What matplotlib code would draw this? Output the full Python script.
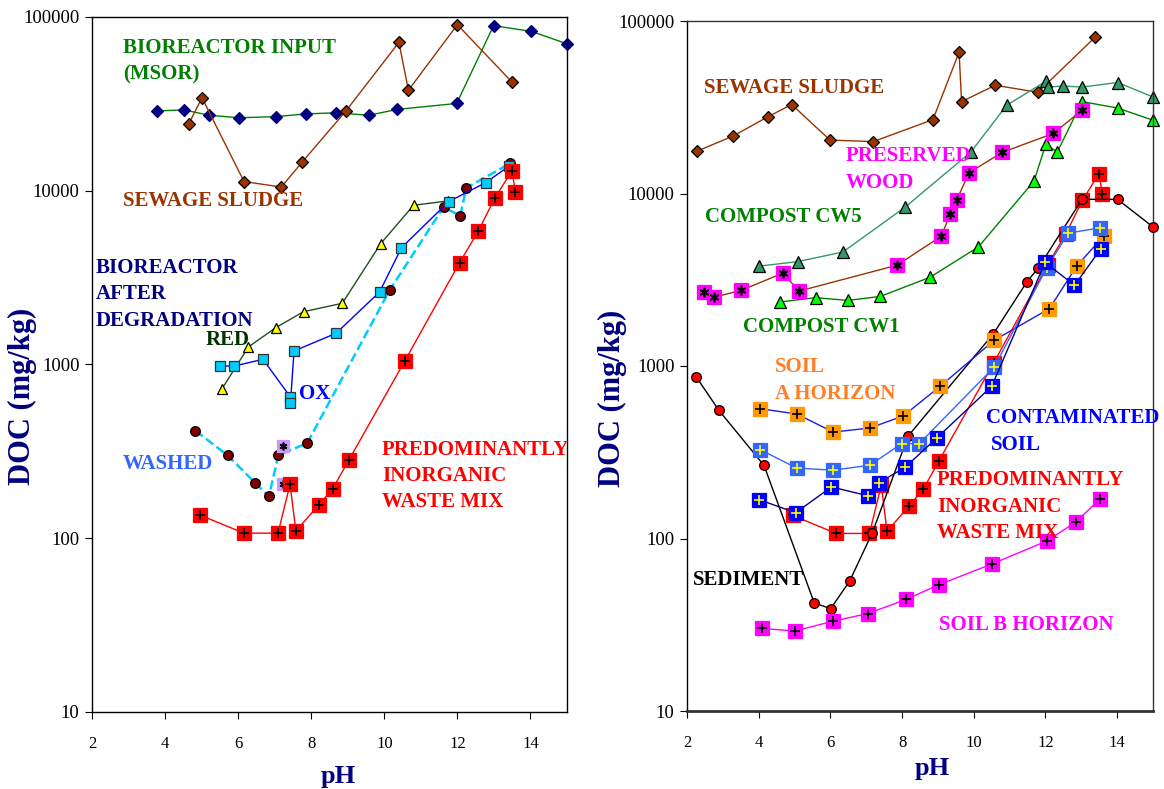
import matplotlib
matplotlib.use('Agg')
import matplotlib.pyplot as plt
from matplotlib.ticker import NullLocator

W, H = 1164, 789

# ---- left panel data (pH, DOC mg/kg) ----
msor_ph = [3.79, 4.51, 5.21, 6.03, 7.03, 7.87, 8.69, 9.57, 10.36, 11.98, 12.99, 14.02, 15.0]
msor_doc = [28800, 29200, 27200, 26300, 26700, 27700, 28100, 27200, 29400, 31800, 89100, 82700, 70100]

sludge_l_ph = [4.65, 5.01, 6.16, 7.18, 7.75, 8.95, 10.40, 10.66, 12.0, 13.49]
sludge_l_doc = [24300, 34300, 11300, 10500, 14600, 28800, 71500, 37900, 90300, 42300]

red_ph = [5.56, 6.28, 7.03, 7.79, 8.85, 9.90, 10.80, 11.73]
red_doc = [726, 1262, 1629, 2014, 2250, 4955, 8250, 8730]

ox_ph = [5.49, 5.89, 6.68, 7.43, 7.43, 7.53, 8.68, 9.87, 10.47, 11.76, 12.77, 13.42]
ox_doc = [980, 980, 1071, 650, 598, 1197, 1512, 2614, 4700, 8650, 11130, 13870]

washed_ph = [4.83, 5.71, 6.46, 6.84, 7.10, 7.89, 10.15, 11.62, 12.08, 12.24, 13.45]
washed_doc = [416, 300, 209, 174, 300, 353, 2684, 8030, 7185, 10370, 14390]

washx_ph = [7.23, 7.23]
washx_doc = [340, 204]

# same waste mix data shown on both panels
waste_ph = [4.95, 6.16, 7.09, 7.42, 7.58, 8.20, 8.59, 9.03, 10.56, 12.06, 12.57, 13.03, 13.49, 13.59]
waste_doc = [136, 107, 107, 204, 110, 155, 193, 282, 1047, 3856, 5845, 9120, 13000, 9880]

# ---- right panel data ----
sludge_r_ph = [2.28, 3.28, 4.25, 4.92, 5.99, 7.20, 8.86, 9.59, 9.66, 10.60, 11.79, 13.39]
sludge_r_doc = [17600, 21500, 27800, 32800, 20400, 20000, 26800, 65900, 34100, 42400, 38600, 80800]

cw5_ph = [4.00, 5.09, 6.35, 8.09, 9.92, 10.92, 12.01, 12.07, 12.50, 13.02, 14.01, 15.0]
cw5_doc = [3790, 4030, 4580, 8350, 17400, 32500, 44700, 41400, 42000, 41400, 44000, 36300]

cw1_ph = [4.59, 5.59, 6.48, 7.39, 8.78, 10.13, 11.68, 12.01, 12.33, 13.02, 14.01, 15.0]
cw1_doc = [2350, 2490, 2400, 2530, 3270, 4900, 11800, 19300, 17400, 34100, 31300, 26600]

wood_ph = [2.47, 2.74, 3.50, 4.67, 5.13, 7.86, 9.09, 9.34, 9.52, 9.87, 10.79, 12.22, 13.02]
wood_doc = [2670, 2500, 2740, 3450, 2720, 3840, 5650, 7570, 9140, 13200, 17300, 22300, 30400]

sed_ph = [2.26, 2.89, 4.15, 5.55, 6.01, 6.54, 7.17, 8.17, 10.55, 11.48, 11.80, 13.02, 14.01, 15.0]
sed_doc = [863, 553, 265, 42.3, 39.2, 56.8, 108, 393, 1540, 3070, 3700, 9250, 9250, 6400]

soila_ph = [4.03, 5.06, 6.08, 7.10, 8.03, 9.06, 10.57, 12.11, 12.88, 13.62]
soila_doc = [566, 527, 414, 437, 513, 762, 1410, 2150, 3820, 5650]

cont1_ph = [4.05, 5.06, 6.08, 7.10, 7.99, 8.48, 10.57, 12.04, 12.64, 13.51]
cont1_doc = [327, 256, 249, 266, 355, 355, 986, 3720, 5900, 6310]

cont2_ph = [4.01, 5.03, 6.03, 7.04, 7.36, 8.08, 8.97, 10.50, 11.99, 12.81, 13.55]
cont2_doc = [168, 141, 199, 177, 211, 258, 383, 762, 3990, 2935, 4795]

soilb_ph = [4.08, 5.01, 6.06, 7.04, 8.11, 9.04, 10.51, 12.04, 12.85, 13.53]
soilb_doc = [30.1, 29.1, 33.1, 36.7, 44.3, 54.1, 71.2, 96.8, 124.7, 170.4]

yticks = [10, 100, 1000, 10000, 100000]
xticks = [2, 4, 6, 8, 10, 12, 14]

plt.rcParams['font.family'] = 'Liberation Serif'

fig = plt.figure(figsize=(W / 100, H / 100), dpi=100)
axl = fig.add_axes([92 / W, 1 - 712 / H, 475 / W, 695 / H])
axr = fig.add_axes([687 / W, 1 - 711 / H, 466 / W, 690 / H])

ASTER = (6, 2, 0)


def px(x, y):
    return x / W, 1 - y / H


def draw(ax, x, y, line, marker, face, edge, ms, over=None, oc='k', ls='-', lw=1.0, z=2):
    ax.plot(x, y, color=line, ls=ls, lw=lw, marker=marker, ms=ms, mfc=face,
            mec=edge, mew=0.9, zorder=z, clip_on=False)
    if over:
        ax.plot(x, y, ls='none', marker=over, ms=ms * 0.7, mec=oc, mew=1.2,
                zorder=z + 0.1, clip_on=False)


# left panel
draw(axl, msor_ph, msor_doc, '#008000', 'D', '#000080', '#000080', 6)
draw(axl, sludge_l_ph, sludge_l_doc, '#993300', 'D', '#993300', 'k', 6)
draw(axl, red_ph, red_doc, '#1f4f1f', '^', '#ffff00', 'k', 7.5)
draw(axl, washed_ph, washed_doc, '#00ccff', 'o', '#800000', 'k', 7, ls='--', lw=1.8, z=3)
draw(axl, ox_ph, ox_doc, '#0000ff', 's', '#00ccff', '#333333', 7.5, z=4)
draw(axl, washx_ph, washx_doc, 'none', 's', '#cc99ff', '#cc99ff', 8, over=ASTER, z=5)
draw(axl, waste_ph, waste_doc, '#ff0000', 's', '#ff0000', '#ff0000', 10, over='+', z=6)

# right panel
draw(axr, sludge_r_ph, sludge_r_doc, '#993300', 'D', '#993300', 'k', 6)
draw(axr, cw5_ph, cw5_doc, '#339966', '^', '#339966', 'k', 8)
draw(axr, cw1_ph, cw1_doc, '#008000', '^', '#00ff00', 'k', 8)
draw(axr, wood_ph, wood_doc, '#993300', 's', '#ff00ff', '#ff00ff', 10, over=ASTER)
draw(axr, waste_ph, waste_doc, '#ff0000', 's', '#ff0000', '#ff0000', 10, over='+', z=3)
draw(axr, sed_ph, sed_doc, 'k', 'o', '#ff0000', 'k', 7, z=4)
draw(axr, soila_ph, soila_doc, '#1a1ae6', 's', '#ff9900', '#ff9900', 10, over='+', z=5)
draw(axr, cont1_ph, cont1_doc, '#3366ff', 's', '#3366ff', '#3366ff', 10, over='+', oc='#ffff00', z=6)
draw(axr, cont2_ph, cont2_doc, '#000080', 's', '#0000ff', '#0000ff', 10, over='+', oc='#ffff00', z=7)
draw(axr, soilb_ph, soilb_doc, '#ff00ff', 's', '#ff00ff', '#ff00ff', 10, over='+', z=8)

for ax in (axl, axr):
    ax.set_yscale('log')
    ax.set_xlim(2, 15)
    ax.set_ylim(10, 100000)
    ax.set_yticks(yticks)
    ax.set_yticklabels([str(v) for v in yticks])
    ax.yaxis.set_minor_locator(NullLocator())
    ax.set_xticks(xticks)
    ax.tick_params(axis='x', direction='out', length=5, pad=12, labelsize=12)
    ax.tick_params(axis='y', direction='out', length=5, pad=4, labelsize=13.5)
    for s in ax.spines.values():
        s.set_linewidth(1.0)
axr.spines['bottom'].set_linewidth(2)
axr.spines['bottom'].set_color('#333333')
axr.spines['top'].set_color('#333333')
axr.spines['right'].set_color('#333333')

# axis titles
lab = dict(color='#000080', fontweight='bold', ha='center', va='center')
fig.text(*px(22, 396), 'DOC (mg/kg)', rotation=90, fontsize=22, **lab)
fig.text(*px(612, 398), 'DOC (mg/kg)', rotation=90, fontsize=22, **lab)
fig.text(*px(338, 776), 'pH', fontsize=19, **lab)
fig.text(*px(932, 769), 'pH', fontsize=19, **lab)


def note(x, y, s, c):
    fig.text(*px(x, y), s, color=c, fontsize=15, fontweight='bold', ha='left', va='center')


# left labels
note(123, 48, 'BIOREACTOR INPUT', '#008000')
note(123, 74, '(MSOR)', '#008000')
note(123, 201, 'SEWAGE SLUDGE', '#993300')
note(96, 268, 'BIOREACTOR', '#000080')
note(96, 294, 'AFTER', '#000080')
note(96, 321, 'DEGRADATION', '#000080')
note(206, 340, 'RED', '#003300')
note(299, 394, 'OX', '#0000ff')
note(123, 464, 'WASHED', '#3366ff')
note(382, 450, 'PREDOMINANTLY', '#ff0000')
note(382, 476, 'INORGANIC', '#ff0000')
note(382, 502, 'WASTE MIX', '#ff0000')

# right labels
note(704, 88, 'SEWAGE SLUDGE', '#993300')
note(846, 156, 'PRESERVED', '#ff00ff')
note(846, 183, 'WOOD', '#ff00ff')
note(705, 217, 'COMPOST CW5', '#008000')
note(743, 327, 'COMPOST CW1', '#008000')
note(775, 367, 'SOIL', '#ff7f27')
note(775, 394, 'A HORIZON', '#ff7f27')
note(986, 418, 'CONTAMINATED', '#0000ff')
note(991, 445, 'SOIL', '#0000ff')
note(937, 480, 'PREDOMINANTLY', '#ff0000')
note(937, 507, 'INORGANIC', '#ff0000')
note(937, 533, 'WASTE MIX', '#ff0000')
note(693, 580, 'SEDIMENT', '#000000')
note(939, 625, 'SOIL B HORIZON', '#ff00ff')

plt.savefig('out.png', dpi=100)
